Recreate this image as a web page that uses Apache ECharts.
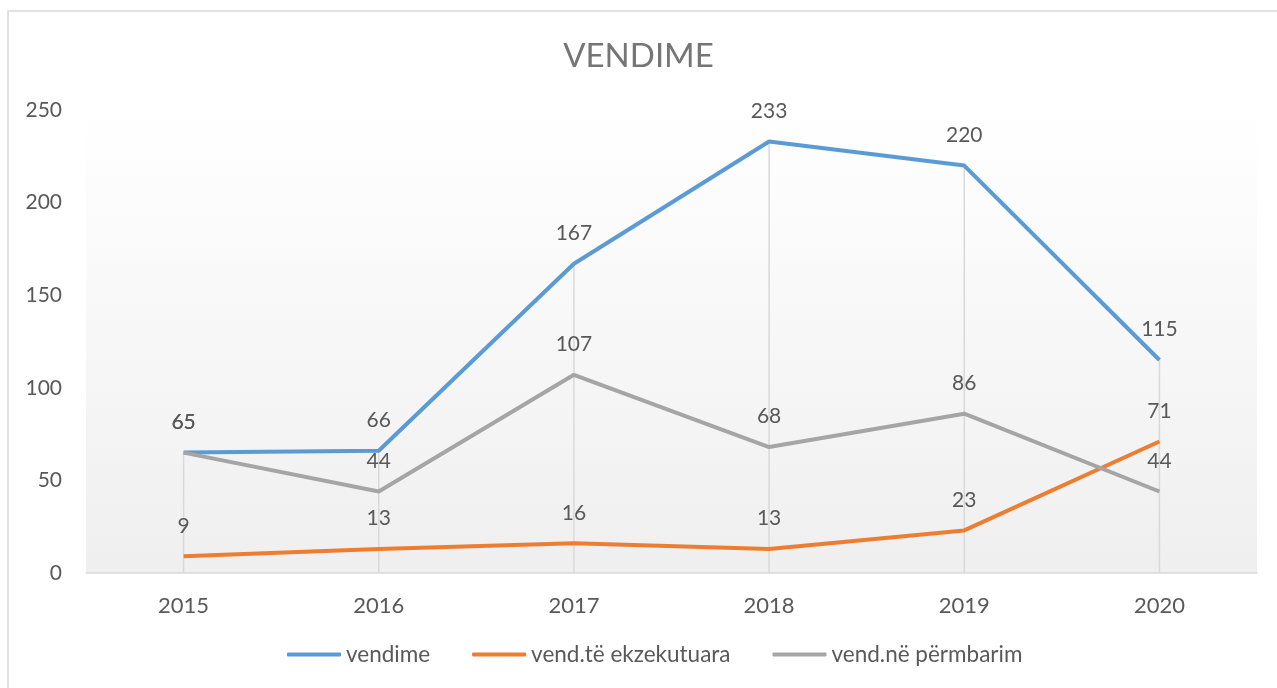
<!DOCTYPE html>
<html><head><meta charset="utf-8">
<script src="https://cdn.jsdelivr.net/npm/echarts@6/dist/echarts.min.js"></script>
<style>html,body{margin:0;padding:0;background:#fff}#c{width:1277px;height:688px}</style>
</head><body><div id="c"></div>
<script>
const years = ['2015','2016','2017','2018','2019','2020'];
const vendime = [65, 66, 167, 233, 220, 115];
const ekzekutuara = [9, 13, 16, 13, 23, 71];
const permbarim = [65, 44, 107, 68, 86, 44];
const seriesNames = ['vendime', 'vend.të ekzekutuara', 'vend.në përmbarim'];
const yTicks = [0, 50, 100, 150, 200, 250];

const dropTop = years.map((y, i) => Math.max(vendime[i], ekzekutuara[i], permbarim[i]));
const FONT = 'Lato, "Open Sans", sans-serif';
const chart = echarts.init(document.getElementById('c'));
const lbl = {show: true, position: 'top', distance: 20, color: '#595959', fontSize: 21, fontFamily: FONT};
function lineSeries(name, data, color) {
  return {name: name, type: 'line', data: data, symbol: 'circle', symbolSize: 0.01, showSymbol: true,
    lineStyle: {color: color, width: 4}, itemStyle: {color: color}, label: lbl, z: 3};
}
chart.setOption({
  animation: false,
  title: {text: 'VENDIME', left: 'center', top: 35, textStyle: {color: '#757575', fontSize: 33, fontWeight: 'normal', fontFamily: FONT}},
  graphic: [{type: 'rect', shape: {x: 8, y: 11, width: 1300, height: 700}, style: {fill: 'none', stroke: '#d9d9d9', lineWidth: 1.5}, silent: true, z: -10}],
  grid: {left: 86, right: 20, top: 110, bottom: 115, show: true, borderWidth: 0,
    backgroundColor: {type: 'linear', x: 0, y: 0, x2: 0, y2: 1, colorStops: [{offset: 0, color: '#ffffff'}, {offset: 1, color: '#efefef'}]}},
  legend: {data: seriesNames, bottom: 17, left: 282, itemGap: 42, itemWidth: 54, itemHeight: 4, icon: 'roundRect',
    textStyle: {color: '#595959', fontSize: 22.5, fontFamily: FONT}},
  xAxis: {type: 'category', data: years, boundaryGap: true,
    axisLine: {lineStyle: {color: '#d9d9d9', width: 1.5}}, axisTick: {show: false},
    axisLabel: {color: '#595959', fontSize: 22, fontFamily: FONT, margin: 22}, splitLine: {show: false}},
  yAxis: {type: 'value', min: 0, max: 250, interval: 50,
    axisLine: {show: false}, axisTick: {show: false}, splitLine: {show: false},
    axisLabel: {color: '#595959', fontSize: 21, fontFamily: FONT, margin: 24}},
  series: [
    {name: 'drop', type: 'bar', data: dropTop, barWidth: 1.5, itemStyle: {color: '#d9d9d9'}, silent: true, z: 1},
    lineSeries(seriesNames[0], vendime, '#5b9bd5'),
    lineSeries(seriesNames[1], ekzekutuara, '#ed7d31'),
    lineSeries(seriesNames[2], permbarim, '#a5a5a5')
  ]
});
</script></body></html>
